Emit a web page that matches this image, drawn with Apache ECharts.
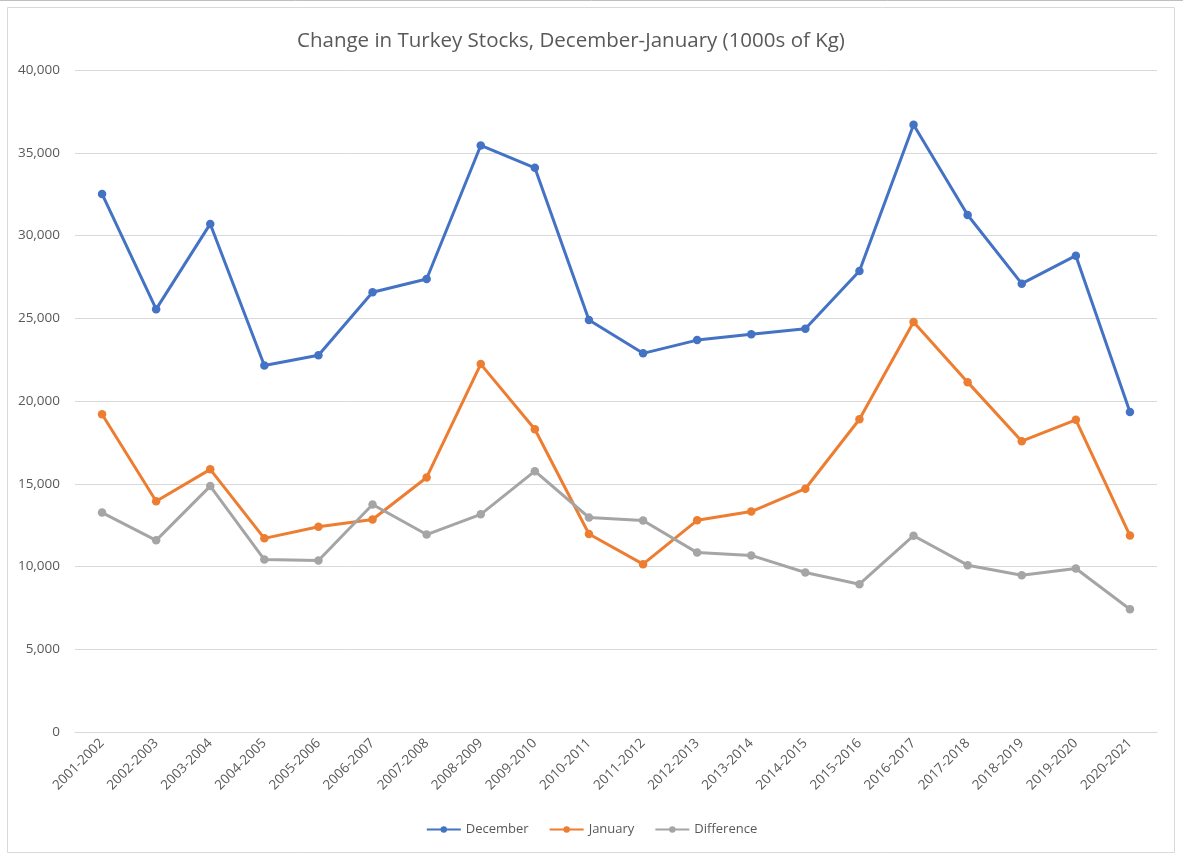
<!DOCTYPE html>
<html>
<head>
<meta charset="utf-8">
<script src="https://cdn.jsdelivr.net/npm/echarts@6/dist/echarts.min.js"></script>
<style>
html,body{margin:0;padding:0;background:#fff;}
#chart{width:1183px;height:858px;}
</style>
</head>
<body>
<div id="chart"></div>
<script>
const categories = ['2001-2002','2002-2003','2003-2004','2004-2005','2005-2006','2006-2007','2007-2008','2008-2009','2009-2010','2010-2011','2011-2012','2012-2013','2013-2014','2014-2015','2015-2016','2016-2017','2017-2018','2018-2019','2019-2020','2020-2021'];
const december = [32510,25550,30700,22150,22770,26570,27370,35440,34090,24890,22880,23680,24040,24360,27850,36690,31240,27090,28780,19340];
const january = [19200,13940,15870,11700,12400,12840,15380,22230,18290,11960,10140,12790,13320,14700,18900,24770,21140,17570,18860,11870];
const difference = [13260,11580,14860,10420,10360,13750,11930,13150,15760,12960,12780,10840,10670,9640,8930,11860,10080,9470,9880,7420];
const yTicks = {min:0, max:40000, interval:5000};

const chart = echarts.init(document.getElementById('chart'));
const fontFam = '"Open Sans", "Noto Sans", sans-serif';
function mk(name, data, color){
  return {
    name: name, type:'line', data:data,
    symbol:'circle', symbolSize:8.5,
    lineStyle:{width:3, color:color},
    itemStyle:{color:color},
    emphasis:{disabled:true}
  };
}
chart.setOption({
  animation:false,
  backgroundColor:'#fff',
  title:{
    text:'Change in Turkey Stocks, December-January (1000s of Kg)',
    left:292, top:26,
    textStyle:{fontFamily:fontFam, fontSize:20.5, fontWeight:'normal', color:'#595959'}
  },
  legend:{
    bottom:17, left:'center',
    itemWidth:34, itemHeight:8, itemGap:20,
    textStyle:{fontFamily:fontFam, fontSize:13, color:'#595959'},
    data:['December','January','Difference']
  },
  grid:{left:75, right:26, top:70, bottom:126},
  xAxis:{
    type:'category', data:categories, boundaryGap:true,
    axisLine:{lineStyle:{color:'#D9D9D9'}},
    axisTick:{show:false},
    axisLabel:{rotate:45, fontFamily:fontFam, fontSize:13.5, color:'#595959', margin:9, interval:0}
  },
  yAxis:{
    type:'value', min:yTicks.min, max:yTicks.max, interval:yTicks.interval,
    axisLine:{show:false}, axisTick:{show:false},
    splitLine:{lineStyle:{color:'#D9D9D9', width:1}},
    axisLabel:{fontFamily:fontFam, fontSize:13.5, color:'#595959', margin:15,
      formatter: v => v.toLocaleString('en-US')}
  },
  graphic:[
    {type:'rect', shape:{x:7.5,y:7.5,width:1167,height:845}, style:{fill:null, stroke:'#D9D9D9', lineWidth:1}, silent:true},
    {type:'line', shape:{x1:0,y1:0.5,x2:1183,y2:0.5}, style:{stroke:'#BFBFBF', lineWidth:1}, silent:true}
  ],
  series:[
    mk('December', december, '#4472C4'),
    mk('January', january, '#ED7D31'),
    mk('Difference', difference, '#A5A5A5')
  ]
});
</script>
</body>
</html>
